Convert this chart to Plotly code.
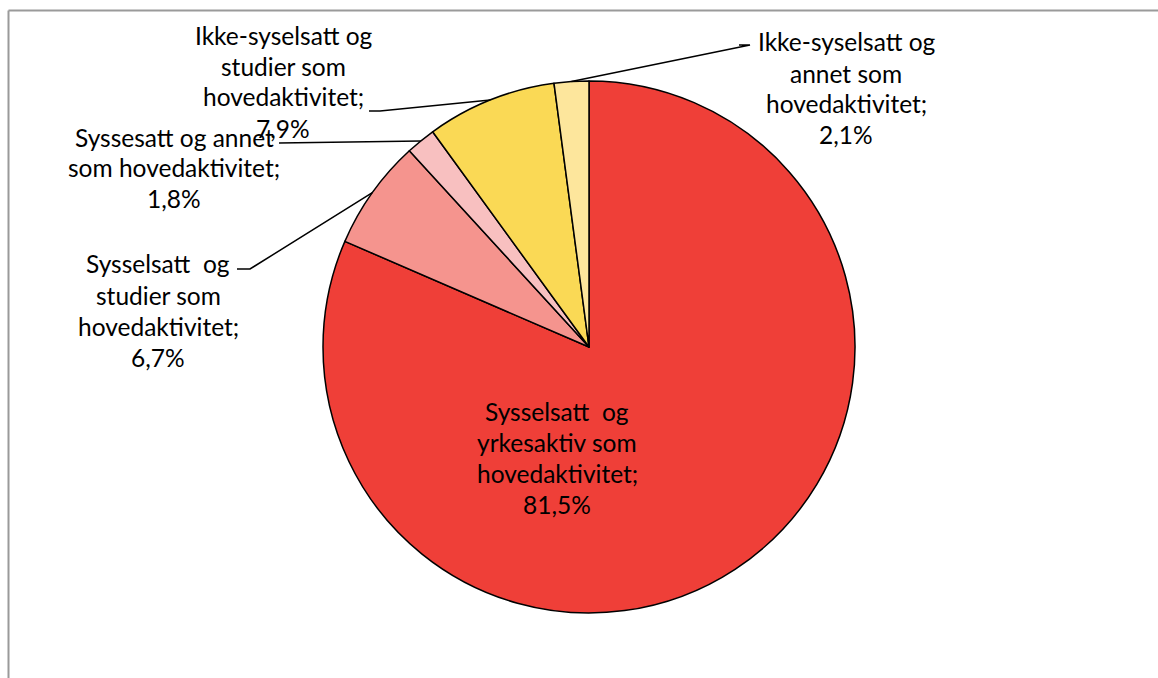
import math
import plotly.graph_objects as go

W, H = 1158, 678

# Slices, clockwise from 12 o'clock
categories = [
    "Sysselsatt  og yrkesaktiv som hovedaktivitet",
    "Sysselsatt  og studier som hovedaktivitet",
    "Syssesatt og annet som hovedaktivitet",
    "Ikke-syselsatt og studier som hovedaktivitet",
    "Ikke-syselsatt og annet som hovedaktivitet",
]
values = [81.5, 6.7, 1.8, 7.9, 2.1]
colors = ["#EF3F38", "#F5948E", "#F8C0C0", "#FAD955", "#FDE69C"]

# Label lines (text before the value line)
label_lines = [
    ["Sysselsatt  og", "yrkesaktiv som", "hovedaktivitet;"],
    ["Sysselsatt  og", "studier som", "hovedaktivitet;"],
    ["Syssesatt og annet", "som hovedaktivitet;"],
    ["Ikke-syselsatt og", "studier som", "hovedaktivitet;"],
    ["Ikke-syselsatt og", "annet som", "hovedaktivitet;"],
]

# Pie geometry in pixels
CX, CY, R = 589, 347, 266

# Label block placement: (center x, first line y) and leader-line anchor points
label_pos = [(557, 411), (158, 264), (174, 137), (283, 35), (846, 42)]
leader_anchor = [None, [(237, 269), (250, 269)], [(279, 143)],
                 [(369, 111), (380, 111)], [(739, 45), (750, 45)]]

LINE_H = 31
FONT = dict(family="Lato, Carlito, Open Sans, sans-serif", size=24.5, color="#000000")


def px(x):
    return x / W


def py(y):
    return 1 - y / H


fig = go.Figure(go.Pie(
    labels=categories,
    values=values,
    sort=False,
    direction="clockwise",
    rotation=0,
    marker=dict(colors=colors, line=dict(color="#000000", width=1.5)),
    textinfo="none",
    hoverinfo="label+percent",
    domain=dict(x=[px(CX - R), px(CX + R)], y=[py(CY + R), py(CY - R)]),
    showlegend=False,
))

annotations = []
shapes = []
total = sum(values)
cum = 0.0
for i, v in enumerate(values):
    mid = (cum + v / 2) / total * 2 * math.pi
    cum += v
    lines = label_lines[i] + [f"{v:.1f}%".replace(".", ",")]
    lx, ly = label_pos[i]
    for k, t in enumerate(lines):
        annotations.append(dict(
            x=px(lx), y=py(ly + k * LINE_H), xref="paper", yref="paper",
            text=t, showarrow=False, xanchor="center", yanchor="middle",
            font=FONT,
        ))
    if leader_anchor[i]:
        ex = CX + R * math.sin(mid)
        ey = CY - R * math.cos(mid)
        pts = leader_anchor[i] + [(ex, ey)]
        path = "M " + " L ".join(f"{px(x)},{py(y)}" for x, y in pts)
        shapes.append(dict(type="path", path=path, xref="paper", yref="paper",
                           line=dict(color="#000000", width=1.5)))

# Chart area frame (left and top edges)
shapes.append(dict(type="line", xref="paper", yref="paper",
                   x0=px(8.5), x1=px(8.5), y0=0, y1=py(10.5),
                   line=dict(color="#9A9A9A", width=2)))
shapes.append(dict(type="line", xref="paper", yref="paper",
                   x0=px(8.5), x1=1, y0=py(10.5), y1=py(10.5),
                   line=dict(color="#9A9A9A", width=2)))

fig.update_layout(
    width=W, height=H,
    margin=dict(l=0, r=0, t=0, b=0),
    paper_bgcolor="#FFFFFF",
    plot_bgcolor="#FFFFFF",
    annotations=annotations,
    shapes=shapes,
)

fig.write_html("out.html")
